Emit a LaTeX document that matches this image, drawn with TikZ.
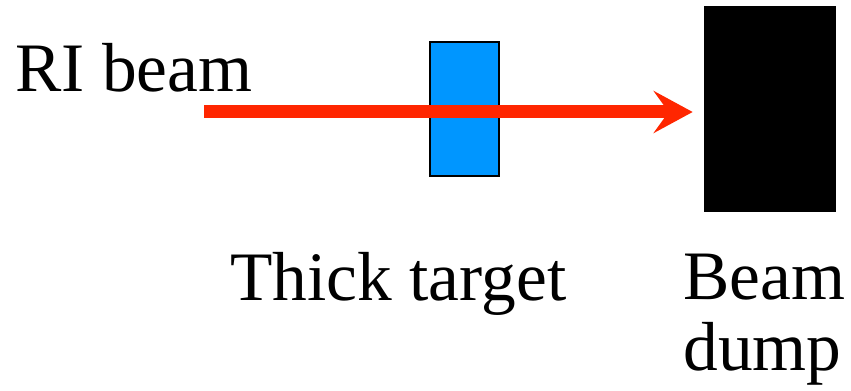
\documentclass[tikz,border=0pt]{standalone}
\usepackage{fontspec}
\setmainfont{Liberation Serif}
\usetikzlibrary{arrows.meta, positioning}
\definecolor{targetblue}{HTML}{0096FF}
\definecolor{beamred}{HTML}{FF2600}
\tikzset{
  lbl/.style={font=\fontsize{39.5}{40}\selectfont, inner sep=0pt, anchor=base west, align=left},
  block/.style={rectangle, inner sep=0pt}
}

\begin{document}
\begin{tikzpicture}[x=0.02cm,y=-0.02cm]
\useasboundingbox (0,0) rectangle (851,391);
% Target and beam dump
\node (target) at (464.5,109) [block, draw=black, line width=0.04cm, fill=targetblue, minimum width=1.38cm, minimum height=2.68cm] {};
\node (dump) at (770,109) [block, fill=black, minimum width=2.64cm, minimum height=4.12cm] {};
% The beam
\coordinate (beamstart) at (204,112);
\draw [-{Stealth[length=0.78cm, width=0.84cm, inset=0.3cm]}, beamred, line width=0.26cm, shorten >=0.22cm] (beamstart) -- (dump.west |- beamstart);
% Labels
\node (beamlabel) at (15,92) [lbl] {RI beam};
\node (targetlabel) at (230,300) [lbl] {Thick target};
\node (dumplabel) at (683,370) [lbl] {Beam\\dump};
\end{tikzpicture}
\end{document}
